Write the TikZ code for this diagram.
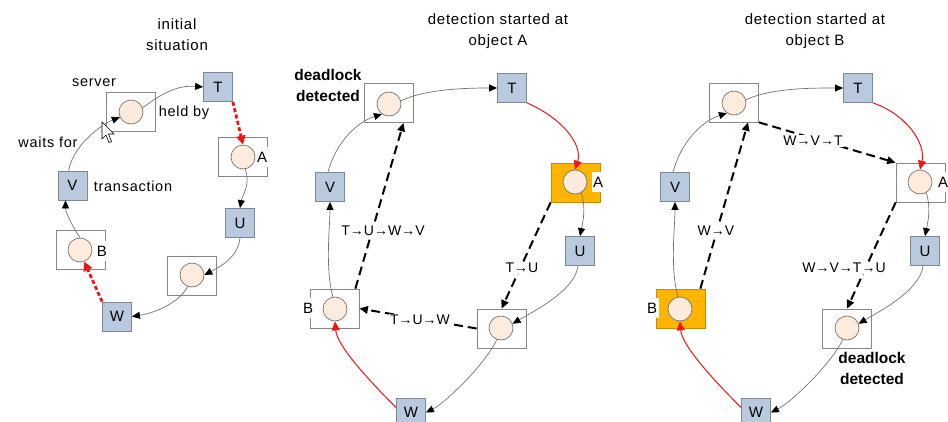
\documentclass[tikz,border=0pt]{standalone}
\usepackage{fontspec}
\setmainfont{Liberation Sans}
\newfontfamily\spaced[LetterSpace=5]{Liberation Sans}
\usetikzlibrary{arrows.meta}
\definecolor{sqfill}{RGB}{185,201,222}
\definecolor{sqdraw}{RGB}{125,135,150}
\definecolor{peach}{RGB}{253,236,222}
\definecolor{circdraw}{RGB}{125,115,105}
\definecolor{boxdraw}{RGB}{135,135,135}
\definecolor{orangefill}{RGB}{255,180,0}
\definecolor{orangedraw}{RGB}{200,140,0}
\definecolor{conngray}{RGB}{115,115,115}
\definecolor{redline}{RGB}{240,20,20}
\begin{document}
\begin{tikzpicture}[x=1pt,y=-1pt,
 trans/.style={draw=sqdraw,fill=sqfill,minimum size=29pt,inner sep=0pt,line width=0.8pt,font=\fontsize{15}{15}\selectfont},
 objbox/.style={draw=boxdraw,minimum width=49pt,minimum height=39pt,inner sep=0pt,line width=0.7pt},
 hotbox/.style={objbox,fill=orangefill,draw=orangedraw},
 srv/.style={circle,draw=circdraw,fill=peach,minimum size=24pt,inner sep=0pt,line width=0.7pt},
 objlabel/.style={fill=white,inner sep=1.5pt,minimum height=20pt,font=\fontsize{15}{15}\selectfont},
 title/.style={align=center,font=\spaced\fontsize{15}{21}\selectfont},
 note/.style={font=\spaced\fontsize{14.5}{15}\selectfont},
 boldnote/.style={align=center,font=\bfseries\fontsize{15.5}{21}\selectfont},
 pathlabel/.style={fill=white,inner sep=1pt,font=\fontsize{14}{15}\selectfont},
 conn/.style={draw=conngray,line width=0.7pt,-{Triangle[length=8pt,width=7pt,black]}},
 hold/.style={draw=redline,line width=1pt,-{Triangle[length=9pt,width=8pt,redline]}},
 holddash/.style={draw=redline,line width=2.8pt,dash pattern=on 4pt off 2.5pt,-{Triangle[length=9pt,width=9pt,redline]}},
 probe/.style={draw=black,line width=2pt,dash pattern=on 9pt off 5pt,-{Triangle[length=8.5pt,width=7.5pt,black]}},
]
\fill[white] (0,0) rectangle (948,421);
\useasboundingbox (0,0) rectangle (948,421);

% ---------------- panel 1 ----------------
\node[title] (t1) at (177,35) {initial\\situation};
\node[note] (n1) at (94,83) {server};
\node[note] (n2) at (184,113) {held by};
\node[note] (n3) at (48,142) {waits for};
\node[note] (n4) at (133,186) {transaction};

\node[objbox] (s1) at (131,111.5) {};
\node[srv] (cs1) at (131,112) {};
\node[trans] (T1) at (218,87) {T};
\node[objbox] (a1) at (242.5,157) {};
\node[srv] (ca1) at (243,157) {};
\node[objlabel] (la1) at (262,157) {A};
\node[trans] (U1) at (240,223) {U};
\node[objbox] (o1) at (192,276) {};
\node[srv] (co1) at (192,275) {};
\node[trans] (W1) at (117,316.5) {W};
\node[objbox] (b1) at (80.5,250) {};
\node[srv] (cb1) at (80,250) {};
\node[objlabel] (lb1) at (102,251) {B};
\node[trans] (V1) at (72.5,185.5) {V};

\draw[conn] (cs1.20) .. controls +(20,-15) and +(-25,-2) .. (T1.west);
\draw[holddash] (T1.south east) -- (ca1.north);
\draw[conn] (ca1.-80) .. controls +(6,15) and +(2,-12) .. (U1.north);
\draw[conn] (U1.south) .. controls +(-2,20) and +(15,-8) .. (co1.east);
\draw[conn] (co1.-110) .. controls +(-10,18) and +(20,-3) .. (W1.east);
\draw[holddash] (W1.north west) -- (cb1.-70);
\draw[conn] (cb1.north) .. controls +(-8,-12) and +(0,12) .. ([xshift=-7pt]V1.south);
\draw[conn] ([xshift=-4pt]V1.north) .. controls +(5,-25) and +(-20,8) .. (cs1.205);

% mouse pointer
\draw[fill=white,line width=0.6pt] (102,122) coordinate (ptr) -- ++(0,17) -- ++(4,-4) -- ++(3,7.5) -- ++(2.5,-1) -- ++(-3,-7.5) -- ++(5.5,0) -- cycle;

% ---------------- panel 2 ----------------
\node[title] (t2) at (498,31) {detection started at\\object A};
\node[boldnote] (d2) at (328,85) {deadlock\\detected};

\node[objbox] (s2) at (388.5,103) {};
\node[srv] (cs2) at (389,104) {};
\node[trans] (T2) at (512,88) {T};
\node[hotbox] (a2) at (575.5,182.5) {};
\node[srv] (ca2) at (575,182) {};
\node[objlabel] (la2) at (598,182) {A};
\node[trans] (U2) at (580,251) {U};
\node[objbox] (o2) at (501.5,328.5) {};
\node[srv] (co2) at (501,328) {};
\node[trans] (W2) at (411,412.5) {W};
\node[objbox] (b2) at (334.5,308.5) {};
\node[srv] (cb2) at (335,309) {};
\node[objlabel] (lb2) at (308,308) {B};
\node[trans] (V2) at (330,187) {V};

\draw[conn] (cs2.15) .. controls +(25,-12) and +(-30,0) .. (T2.west);
\draw[hold] (T2.south east) .. controls +(35,15) and +(8,-25) .. (ca2.north);
\draw[conn] (ca2.-60) .. controls +(5,15) and +(3,-15) .. (U2.north);
\draw[conn] ([xshift=-2pt]U2.south) .. controls +(-3,25) and +(20,-12) .. (co2.20);
\draw[conn] (co2.-110) .. controls +(-12,25) and +(20,-10) .. (W2.east);
\draw[hold] ([yshift=5pt]W2.west) .. controls +(-25,-25) and +(2,25) .. (cb2.south);
\draw[conn] (cb2.100) .. controls +(-8,-30) and +(0,25) .. (V2.south);
\draw[conn] ([xshift=-2pt]V2.north) .. controls +(8,-30) and +(-25,8) .. (cs2.235);

\draw[probe] (a2.south west) -- (o2.north);
\draw[probe] (o2.west) -- (b2.east);
\draw[probe] ([xshift=-4pt]b2.north east) -- ([xshift=15pt]s2.south);
\node[pathlabel] (p21) at (522,268) {T→U};
\node[pathlabel] (p22) at (420,320) {T→U→W};
\node[pathlabel] (p23) at (383,231) {T→U→W→V};

% ---------------- panel 3 ----------------
\node[title] (t3) at (815,31) {detection started at\\object B};
\node[boldnote] (d3) at (872,368) {deadlock\\detected};

\node[objbox] (s3) at (734,102.5) {};
\node[srv] (cs3) at (734,103) {};
\node[trans] (T3) at (858,88) {T};
\node[objbox] (a3) at (920.5,182.5) {};
\node[srv] (ca3) at (920,182) {};
\node[objlabel] (la3) at (943,182) {A};
\node[trans] (U3) at (925,251) {U};
\node[objbox] (o3) at (847,328.5) {};
\node[srv] (co3) at (847,328) {};
\node[trans] (W3) at (756,412.5) {W};
\node[hotbox] (b3) at (680.5,308.5) {};
\node[srv] (cb3) at (680,309) {};
\node[objlabel] (lb3) at (652,308) {B};
\node[trans] (V3) at (675,187) {V};

\draw[conn] (cs3.15) .. controls +(25,-12) and +(-30,0) .. (T3.west);
\draw[hold] (T3.south east) .. controls +(35,12) and +(6,-25) .. (ca3.north);
\draw[conn] (ca3.-60) .. controls +(5,15) and +(3,-15) .. (U3.north);
\draw[conn] ([xshift=-2pt]U3.south) .. controls +(-3,25) and +(20,-12) .. (co3.20);
\draw[conn] (co3.-110) .. controls +(-12,25) and +(20,-10) .. (W3.east);
\draw[hold] ([yshift=5pt]W3.west) .. controls +(-25,-25) and +(2,25) .. (cb3.south);
\draw[conn] (cb3.100) .. controls +(-8,-30) and +(0,25) .. (V3.south);
\draw[conn] ([xshift=-2pt]V3.north) .. controls +(8,-30) and +(-25,8) .. (cs3.235);

\draw[probe] ([xshift=-5pt]b3.north east) -- ([xshift=14pt]s3.south);
\draw[probe] (s3.south east) -- (a3.north west);
\draw[probe] (a3.south west) -- (o3.north);
\node[pathlabel] (p31) at (716,231) {W→V};
\node[pathlabel] (p32) at (813,141) {W→V→T};
\node[pathlabel] (p33) at (844,268) {W→V→T→U};
\end{tikzpicture}
\end{document}
